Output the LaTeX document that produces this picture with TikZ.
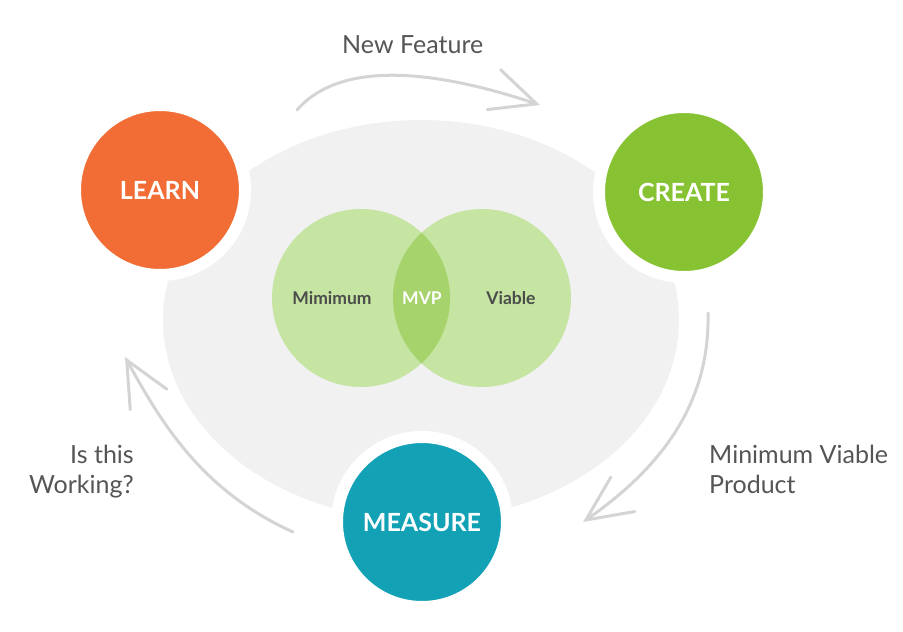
\documentclass[tikz,border=0pt]{standalone}
\usepackage{fontspec}
\setmainfont{Lato}
\usetikzlibrary{arrows.meta}

\definecolor{learnorange}{HTML}{F26D35}
\definecolor{creategreen}{HTML}{86C232}
\definecolor{measureteal}{HTML}{13A1B6}
\definecolor{backgray}{HTML}{F1F1F2}
\definecolor{venngreen}{HTML}{C6E4A2}
\definecolor{lensgreen}{HTML}{A6D36B}
\definecolor{arrowgray}{HTML}{D4D4D4}
\definecolor{textgray}{HTML}{555555}
\definecolor{venntext}{HTML}{4A4D4A}

\begin{document}
\begin{tikzpicture}[x=1pt,y=-1pt,
  stage/.style={circle, minimum size=170pt, inner sep=0pt, draw=white, line width=12pt,
    text=white, font=\fontsize{25}{25}\selectfont\bfseries},
  loop/.style={arrowgray, line width=3pt, line cap=round,
    -{Straight Barb[length=45pt,width=42pt,line cap=round]}},
  sidetext/.style={text=textgray, font=\fontsize{25}{30}\selectfont, align=left, anchor=base west, inner sep=0pt},
  venntag/.style={text=venntext, font=\fontsize{17.5}{17.5}\selectfont\bfseries}]
  \useasboundingbox (0,0) rectangle (903,632);

  % Background disc
  \fill[backgray] (421,320) ellipse [x radius=258, y radius=200];

  % Venn diagram
  \fill[venngreen] (361,298) circle (89);
  \fill[venngreen] (482,298) circle (89);
  \begin{scope}
    \clip (361,298) circle (89);
    \fill[lensgreen] (482,298) circle (89);
  \end{scope}
  \node[venntag] (mini) at (332,298) {Mimimum};
  \node[venntag, text=white] (mvp) at (422,298) {MVP};
  \node[venntag] (viab) at (511,298) {Viable};

  % Cycle arrows
  \coordinate (nfstart) at (297,110);
  \coordinate (nfend) at (540,105);
  \coordinate (mvstart) at (708,313);
  \coordinate (mvend) at (583,522);
  \coordinate (iwstart) at (293,532);
  \coordinate (iwend) at (125,357);
  \draw[loop] (nfstart) .. controls (345,55) and (450,75) .. (nfend);
  \draw[loop] (mvstart) .. controls (710,400) and (665,465) .. (mvend);
  \draw[loop] (iwstart) .. controls (200,490) and (160,420) .. (iwend);

  % Stages
  \node[stage, fill=learnorange] (learn) at (160,190) {LEARN};
  \node[stage, fill=creategreen] (create) at (684,192) {CREATE};
  \node[stage, fill=measureteal] (measure) at (422,522) {MEASURE};

  % Arrow labels
  \node[sidetext] (newfeat) at (342,53) {New Feature};
  \node[sidetext] (mvptext) at (709,493) {Minimum Viable\\Product};
  \node[sidetext, align=right, anchor=base east] (working) at (134,493) {Is this\\Working?};
\end{tikzpicture}
\end{document}
